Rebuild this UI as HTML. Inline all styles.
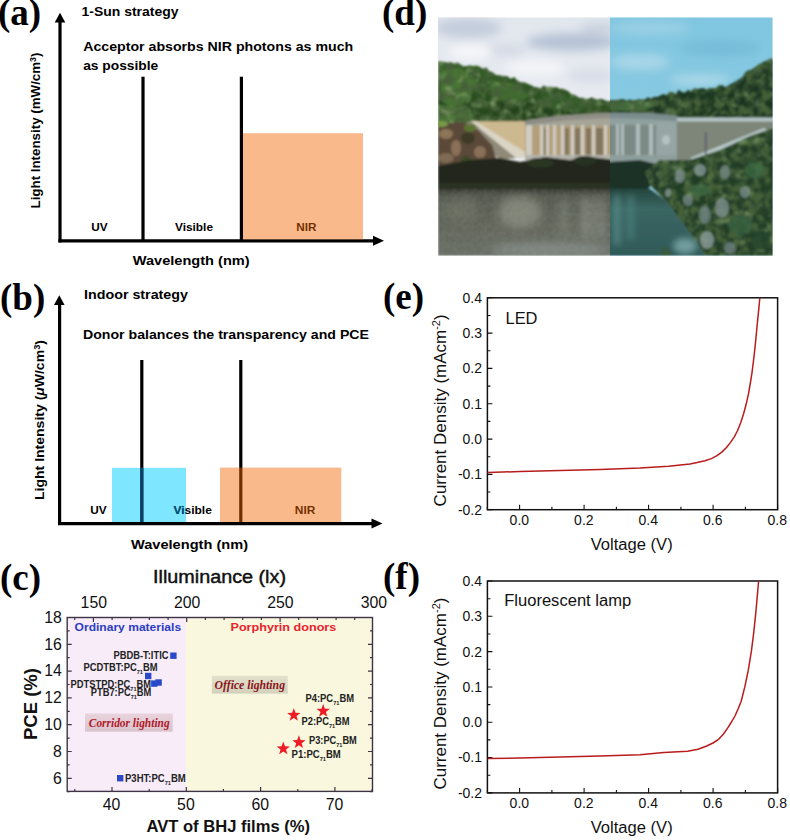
<!DOCTYPE html>
<html><head><meta charset="utf-8"><style>
html,body{margin:0;padding:0;background:#fff;width:790px;height:840px;overflow:hidden}
svg{display:block}
text{font-family:"Liberation Sans",sans-serif}
</style></head><body>
<svg width="790" height="840" viewBox="0 0 790 840">
<text x="-2" y="25" font-size="37" font-weight="bold" fill="#000" style='font-family:"Liberation Serif", serif' >(a)</text>
<text x="81.5" y="16.4" font-size="12.8" font-weight="bold" fill="#000" textLength="97" lengthAdjust="spacingAndGlyphs" >1-Sun strategy</text>
<text x="83.2" y="50.8" font-size="12.8" font-weight="bold" fill="#000" textLength="270" lengthAdjust="spacingAndGlyphs" >Acceptor absorbs NIR photons as much</text>
<text x="83.2" y="69.6" font-size="12.8" font-weight="bold" fill="#000" textLength="75" lengthAdjust="spacingAndGlyphs" >as possible</text>
<g stroke="#000" stroke-width="3.2" fill="none">
<line x1="60" y1="21" x2="60" y2="242.4"/>
<line x1="58.4" y1="240.8" x2="374" y2="240.8"/>
<line x1="143" y1="76.7" x2="143" y2="240"/>
<line x1="241.4" y1="76.7" x2="241.4" y2="240"/>
</g>
<polygon points="60,12.7 54.7,22.5 65.3,22.5" fill="#000"/>
<polygon points="384,240.8 373,235.8 373,245.8" fill="#000"/>
<text x="91.2" y="231.1" font-size="11.8" font-weight="bold" fill="#000" textLength="16.4" lengthAdjust="spacingAndGlyphs" >UV</text>
<text x="175" y="231.1" font-size="11.8" font-weight="bold" fill="#000" textLength="38" lengthAdjust="spacingAndGlyphs" >Visible</text>
<text x="296.3" y="231.1" font-size="11.8" font-weight="bold" fill="#000" textLength="20.2" lengthAdjust="spacingAndGlyphs" >NIR</text>
<rect x="243" y="133.2" width="120" height="106.2" fill="rgb(242,102,2)" fill-opacity="0.46"/>
<text x="132.7" y="265.3" font-size="12.8" font-weight="bold" fill="#000" textLength="117" lengthAdjust="spacingAndGlyphs" >Wavelength (nm)</text>
<text transform="translate(40,208.5) rotate(-90)" font-size="12.8" font-weight="bold" textLength="156" lengthAdjust="spacingAndGlyphs">Light Intensity (mW/cm<tspan font-size="8.5" dy="-4.5">3</tspan><tspan dy="4.5">)</tspan></text>
<text x="0" y="309.6" font-size="37" font-weight="bold" fill="#000" style='font-family:"Liberation Serif", serif' >(b)</text>
<text x="84" y="299.4" font-size="12.8" font-weight="bold" fill="#000" textLength="104" lengthAdjust="spacingAndGlyphs" >Indoor strategy</text>
<text x="83" y="339.2" font-size="12.8" font-weight="bold" fill="#000" textLength="286" lengthAdjust="spacingAndGlyphs" >Donor balances the transparency and PCE</text>
<g stroke="#000" stroke-width="3.2" fill="none">
<line x1="59.6" y1="304" x2="59.6" y2="525"/>
<line x1="58" y1="523.6" x2="372" y2="523.6"/>
<line x1="141.8" y1="360" x2="141.8" y2="523"/>
<line x1="240.8" y1="360" x2="240.8" y2="523"/>
</g>
<polygon points="59.3,295.2 54,305 64.6,305" fill="#000"/>
<polygon points="382.5,523.6 371.5,518.6 371.5,528.6" fill="#000"/>
<text x="90.2" y="514.4" font-size="11.8" font-weight="bold" fill="#000" textLength="16.4" lengthAdjust="spacingAndGlyphs" >UV</text>
<text x="173.4" y="514.4" font-size="11.8" font-weight="bold" fill="#000" textLength="38.5" lengthAdjust="spacingAndGlyphs" >Visible</text>
<text x="294.8" y="514.4" font-size="11.8" font-weight="bold" fill="#000" textLength="20.5" lengthAdjust="spacingAndGlyphs" >NIR</text>
<rect x="112" y="467.8" width="74" height="54.2" fill="rgb(0,205,255)" fill-opacity="0.5"/>
<clipPath id="blueclip"><rect x="112" y="467.8" width="74" height="54.2"/></clipPath>
<g clip-path="url(#blueclip)"><line x1="141.8" y1="460" x2="141.8" y2="522" stroke="#0c3f62" stroke-width="3.2"/><text x="173.4" y="514.4" font-size="11.8" font-weight="bold" fill="#0c4a72" textLength="38.5" lengthAdjust="spacingAndGlyphs">Visible</text></g>
<rect x="220" y="467.6" width="121.3" height="54.4" fill="rgb(242,102,2)" fill-opacity="0.46"/>
<text x="131" y="549.3" font-size="12.8" font-weight="bold" fill="#000" textLength="117" lengthAdjust="spacingAndGlyphs" >Wavelength (nm)</text>
<text transform="translate(44,500) rotate(-90)" font-size="12.8" font-weight="bold" textLength="160" lengthAdjust="spacingAndGlyphs">Light Intensity (<tspan font-style="italic">μ</tspan>W/cm<tspan font-size="8.5" dy="-4.5">3</tspan><tspan dy="4.5">)</tspan></text>
<text x="0" y="590" font-size="37" font-weight="bold" fill="#000" style='font-family:"Liberation Serif", serif' >(c)</text>
<rect x="67.2" y="617.5" width="118.8" height="173.89999999999998" fill="#f8ecf8"/>
<rect x="186" y="617.5" width="186.5" height="173.89999999999998" fill="#f9f7de"/>
<path d="M67.2 791.7h2.5M372.5 791.7h-2.5M67.2 778.3h4.5M372.5 778.3h-4.5M67.2 764.9h2.5M372.5 764.9h-2.5M67.2 751.5h4.5M372.5 751.5h-4.5M67.2 738.1h2.5M372.5 738.1h-2.5M67.2 724.7h4.5M372.5 724.7h-4.5M67.2 711.3h2.5M372.5 711.3h-2.5M67.2 697.9h4.5M372.5 697.9h-4.5M67.2 684.5h2.5M372.5 684.5h-2.5M67.2 671.1h4.5M372.5 671.1h-4.5M67.2 657.7h2.5M372.5 657.7h-2.5M67.2 644.3h4.5M372.5 644.3h-4.5M67.2 630.9h2.5M372.5 630.9h-2.5M67.2 617.5h4.5M372.5 617.5h-4.5M74.8 791.4v-2.5M112.0 791.4v-4.5M149.2 791.4v-2.5M186.3 791.4v-4.5M223.4 791.4v-2.5M260.6 791.4v-4.5M297.8 791.4v-2.5M334.9 791.4v-4.5M372.1 791.4v-2.5M74.7 617.5v2.5M93.4 617.5v4.5M112.1 617.5v2.5M130.7 617.5v2.5M149.4 617.5v2.5M168.1 617.5v2.5M186.7 617.5v4.5M205.4 617.5v2.5M224.1 617.5v2.5M242.7 617.5v2.5M261.4 617.5v2.5M280.1 617.5v4.5M298.7 617.5v2.5M317.4 617.5v2.5M336.1 617.5v2.5M354.7 617.5v2.5" stroke="#3d3545" stroke-width="1.2" fill="none"/>
<rect x="67.2" y="617.5" width="305.3" height="173.89999999999998" fill="none" stroke="#3d3545" stroke-width="1.4"/>
<text x="61.8" y="783.5999999999999" font-size="15.8" font-weight="normal" fill="#111" text-anchor="end" >6</text>
<text x="61.8" y="756.8" font-size="15.8" font-weight="normal" fill="#111" text-anchor="end" >8</text>
<text x="61.8" y="730.0" font-size="15.8" font-weight="normal" fill="#111" text-anchor="end" >10</text>
<text x="61.8" y="703.1999999999999" font-size="15.8" font-weight="normal" fill="#111" text-anchor="end" >12</text>
<text x="61.8" y="676.4" font-size="15.8" font-weight="normal" fill="#111" text-anchor="end" >14</text>
<text x="61.8" y="649.5999999999999" font-size="15.8" font-weight="normal" fill="#111" text-anchor="end" >16</text>
<text x="61.8" y="622.8" font-size="15.8" font-weight="normal" fill="#111" text-anchor="end" >18</text>
<text x="111.6" y="810" font-size="15.8" font-weight="normal" fill="#111" text-anchor="middle" >40</text>
<text x="185.9" y="810" font-size="15.8" font-weight="normal" fill="#111" text-anchor="middle" >50</text>
<text x="260.20000000000005" y="810" font-size="15.8" font-weight="normal" fill="#111" text-anchor="middle" >60</text>
<text x="334.5" y="810" font-size="15.8" font-weight="normal" fill="#111" text-anchor="middle" >70</text>
<text x="93.80000000000001" y="607.7" font-size="15.8" font-weight="normal" fill="#111" text-anchor="middle" >150</text>
<text x="187.13500000000002" y="607.7" font-size="15.8" font-weight="normal" fill="#111" text-anchor="middle" >200</text>
<text x="280.47" y="607.7" font-size="15.8" font-weight="normal" fill="#111" text-anchor="middle" >250</text>
<text x="373.80499999999995" y="607.7" font-size="15.8" font-weight="normal" fill="#111" text-anchor="middle" >300</text>
<text x="146.5" y="831.9" font-size="16.8" font-weight="bold" fill="#111" textLength="163.5" lengthAdjust="spacingAndGlyphs" >AVT of BHJ films (%)</text>
<text x="153" y="582.5" font-size="18" font-weight="normal" fill="#111" textLength="133" lengthAdjust="spacingAndGlyphs" stroke="#111" stroke-width="0.45">Illuminance (lx)</text>
<text transform="translate(37,740) rotate(-90)" font-size="17.5" font-weight="bold" fill="#111" textLength="72" lengthAdjust="spacingAndGlyphs">PCE (%)</text>
<text x="74.6" y="631" font-size="11.2" font-weight="bold" fill="#2b3cc4" textLength="106.5" lengthAdjust="spacingAndGlyphs" >Ordinary materials</text>
<text x="230.5" y="631.4" font-size="11.2" font-weight="bold" fill="#e8232e" textLength="105.8" lengthAdjust="spacingAndGlyphs" >Porphyrin donors</text>
<text x="113.5" y="659" font-size="10.2" font-weight="bold" fill="#222" textLength="55" lengthAdjust="spacingAndGlyphs" >PBDB-T:ITIC</text>
<text x="83.5" y="670.7" font-size="10.2" font-weight="bold" fill="#222" textLength="74" lengthAdjust="spacingAndGlyphs">PCDTBT:PC<tspan font-size="6.1" dy="2.8">71</tspan><tspan dy="-2.8">BM</tspan></text>
<text x="70.6" y="687.8" font-size="10.2" font-weight="bold" fill="#222" textLength="80.5" lengthAdjust="spacingAndGlyphs">PDTSTPD:PC<tspan font-size="6.1" dy="2.8">71</tspan><tspan dy="-2.8">BM</tspan></text>
<text x="90.8" y="696" font-size="10.2" font-weight="bold" fill="#222" textLength="60.5" lengthAdjust="spacingAndGlyphs">PTB7:PC<tspan font-size="6.1" dy="2.8">71</tspan><tspan dy="-2.8">BM</tspan></text>
<text x="125" y="781.9" font-size="10.2" font-weight="bold" fill="#222" textLength="60.8" lengthAdjust="spacingAndGlyphs">P3HT:PC<tspan font-size="6.1" dy="2.8">71</tspan><tspan dy="-2.8">BM</tspan></text>
<text x="305.5" y="702.3" font-size="10.2" font-weight="bold" fill="#222" textLength="48.5" lengthAdjust="spacingAndGlyphs">P4:PC<tspan font-size="6.1" dy="2.8">71</tspan><tspan dy="-2.8">BM</tspan></text>
<text x="301.5" y="725" font-size="10.2" font-weight="bold" fill="#222" textLength="48.1" lengthAdjust="spacingAndGlyphs">P2:PC<tspan font-size="6.1" dy="2.8">71</tspan><tspan dy="-2.8">BM</tspan></text>
<text x="309" y="744.3" font-size="10.2" font-weight="bold" fill="#222" textLength="47.8" lengthAdjust="spacingAndGlyphs">P3:PC<tspan font-size="6.1" dy="2.8">71</tspan><tspan dy="-2.8">BM</tspan></text>
<text x="291.6" y="758.2" font-size="10.2" font-weight="bold" fill="#222" textLength="49.2" lengthAdjust="spacingAndGlyphs">P1:PC<tspan font-size="6.1" dy="2.8">71</tspan><tspan dy="-2.8">BM</tspan></text>
<rect x="170.2" y="652.5" width="6.4" height="6.4" fill="#2a48c8"/>
<rect x="145.0" y="672.8" width="6.4" height="6.4" fill="#2a48c8"/>
<rect x="151.1" y="680.4" width="6.4" height="6.4" fill="#2a48c8"/>
<rect x="155.4" y="679.3" width="6.4" height="6.4" fill="#2a48c8"/>
<rect x="117.0" y="775.0" width="6.4" height="6.4" fill="#2a48c8"/>
<polygon points="323.20,704.00 324.90,708.65 329.86,708.84 325.96,711.90 327.31,716.66 323.20,713.90 319.09,716.66 320.44,711.90 316.54,708.84 321.50,708.65" fill="#ee1c25"/>
<polygon points="293.80,708.20 295.50,712.85 300.46,713.04 296.56,716.10 297.91,720.86 293.80,718.10 289.69,720.86 291.04,716.10 287.14,713.04 292.10,712.85" fill="#ee1c25"/>
<polygon points="298.90,735.30 300.60,739.95 305.56,740.14 301.66,743.20 303.01,747.96 298.90,745.20 294.79,747.96 296.14,743.20 292.24,740.14 297.20,739.95" fill="#ee1c25"/>
<polygon points="283.30,741.60 285.00,746.25 289.96,746.44 286.06,749.50 287.41,754.26 283.30,751.50 279.19,754.26 280.54,749.50 276.64,746.44 281.60,746.25" fill="#ee1c25"/>
<defs><linearGradient id="gc" x1="0" y1="0" x2="0" y2="1"><stop offset="0" stop-color="#e9d3dc"/><stop offset="1" stop-color="#d9c3cc"/></linearGradient><linearGradient id="go" x1="0" y1="0" x2="0" y2="1"><stop offset="0" stop-color="#e3e1cb"/><stop offset="1" stop-color="#d3d1bb"/></linearGradient></defs>
<rect x="85" y="713.5" width="87.8" height="18.2" fill="url(#gc)"/>
<rect x="211.9" y="675.8" width="75.8" height="17.8" fill="url(#go)"/>
<text x="88.8" y="726.8" font-size="11.5" font-weight="bold" fill="#b01828" style='font-family:"Liberation Serif", serif' textLength="80.8" lengthAdjust="spacingAndGlyphs" font-style="italic" >Corridor lighting</text>
<text x="214.6" y="688.5" font-size="11.5" font-weight="bold" fill="#8a1420" style='font-family:"Liberation Serif", serif' textLength="70.4" lengthAdjust="spacingAndGlyphs" font-style="italic" >Office lighting</text>
<text x="382" y="25" font-size="37" font-weight="bold" fill="#000" style='font-family:"Liberation Serif", serif' >(d)</text>
<defs>
<clipPath id="pclipL"><rect x="438" y="17.3" width="172" height="238.4"/></clipPath>
<clipPath id="pclipR"><rect x="610" y="17.3" width="162.6" height="238.4"/></clipPath>
<linearGradient id="skyL" x1="0" y1="0" x2="0" y2="1">
<stop offset="0" stop-color="#e2e7ee"/><stop offset="0.5" stop-color="#e9ecf1"/><stop offset="1" stop-color="#f1f3f6"/></linearGradient>
<linearGradient id="skyR" x1="0" y1="0" x2="0" y2="1">
<stop offset="0" stop-color="#80c6e0"/><stop offset="0.6" stop-color="#8ccbe2"/><stop offset="1" stop-color="#a6d4e6"/></linearGradient>
<linearGradient id="waterL" x1="0" y1="0" x2="0" y2="1">
<stop offset="0" stop-color="#33372e"/><stop offset="0.12" stop-color="#50544a"/><stop offset="0.6" stop-color="#5e6256"/><stop offset="1" stop-color="#646a62"/></linearGradient>
<linearGradient id="waterR" x1="0" y1="0" x2="0" y2="1">
<stop offset="0" stop-color="#24463f"/><stop offset="0.3" stop-color="#3a6662"/><stop offset="1" stop-color="#2f5a58"/></linearGradient>
<linearGradient id="hillL" x1="0" y1="0" x2="0" y2="1">
<stop offset="0" stop-color="#37602a"/><stop offset="1" stop-color="#22401a"/></linearGradient>
<linearGradient id="hillR" x1="0" y1="0" x2="0" y2="1">
<stop offset="0" stop-color="#24432a"/><stop offset="1" stop-color="#162c1c"/></linearGradient>
<filter id="pblur" x="-5%" y="-5%" width="110%" height="110%"><feGaussianBlur stdDeviation="0.9"/></filter>
<filter id="pblur2" x="-30%" y="-30%" width="160%" height="160%"><feGaussianBlur stdDeviation="3"/></filter>
<filter id="pblur3" x="-30%" y="-30%" width="160%" height="160%"><feGaussianBlur stdDeviation="5"/></filter>
<filter id="texD" x="0" y="0" width="100%" height="100%"><feTurbulence type="fractalNoise" baseFrequency="0.13" numOctaves="3" seed="7"/><feColorMatrix values="0 0 0 0 0.06  0 0 0 0 0.12  0 0 0 0 0.04  0 0 0 3.4 -1.3"/></filter>
<filter id="texL" x="0" y="0" width="100%" height="100%"><feTurbulence type="fractalNoise" baseFrequency="0.11" numOctaves="3" seed="11"/><feColorMatrix values="0 0 0 0 0.38  0 0 0 0 0.55  0 0 0 0 0.25  0 0 0 2.6 -1.45"/></filter>
<clipPath id="hillLc"><path d="M438.0 61.5 L441.2 61.4 L444.5 62.0 L447.8 62.7 L451.0 62.3 L454.1 63.8 L457.1 62.6 L460.2 64.3 L463.2 66.3 L466.3 65.9 L469.9 65.4 L473.4 66.0 L477.0 65.6 L480.1 67.1 L483.2 68.7 L486.2 67.6 L489.3 71.6 L492.4 72.1 L496.0 75.1 L499.7 75.2 L503.3 76.2 L506.9 75.9 L510.6 78.7 L514.2 77.0 L517.8 81.1 L521.4 82.6 L525.0 82.6 L528.1 83.9 L531.1 85.2 L534.2 87.0 L537.2 87.3 L540.3 88.7 L543.6 85.6 L546.8 87.0 L550.1 86.8 L553.4 87.4 L556.4 87.1 L559.5 88.8 L562.5 88.7 L565.6 90.0 L568.6 91.5 L571.3 94.5 L574.0 94.5 L576.8 96.3 L579.5 97.9 L582.6 97.7 L585.6 98.9 L588.7 98.8 L591.7 97.3 L594.8 99.1 L597.8 99.8 L600.9 98.7 L603.9 99.7 L606.9 101.3 L609.9 101.0 L613.0 102.5 L616.0 103.0 L616 128 L438 128 Z"/></clipPath>
<clipPath id="hillRc"><path d="M608.0 99.7 L611.1 100.2 L614.2 100.1 L617.2 100.1 L620.3 99.6 L623.4 99.3 L626.5 100.7 L629.6 99.5 L632.6 100.4 L635.7 100.3 L638.8 99.3 L641.9 99.7 L644.9 99.6 L648.0 97.3 L651.1 98.8 L654.2 96.8 L657.3 96.9 L660.3 95.4 L663.4 94.0 L666.5 95.2 L669.6 92.0 L672.7 92.3 L675.7 93.9 L678.8 89.8 L681.8 92.1 L684.9 92.8 L687.9 89.8 L691.0 91.4 L694.1 88.3 L697.2 89.0 L700.3 88.4 L703.3 88.1 L706.4 89.4 L709.5 88.2 L712.6 87.9 L715.8 88.2 L719.0 85.2 L722.3 85.2 L725.5 87.6 L728.7 86.2 L732.0 84.1 L735.2 83.4 L738.4 82.0 L740.6 77.9 L742.7 76.4 L744.9 73.0 L747.6 70.4 L750.2 70.3 L752.9 68.7 L755.6 66.7 L758.5 64.5 L761.3 63.3 L764.2 61.4 L767.5 60.3 L770.7 58.6 L774.0 59.7 L774 135 L608 125 Z"/></clipPath>
<clipPath id="vegRc"><path d="M645 172 L660 160 L690 160 L720 150 L750 136 L774 128 L774 256 L705 256 L695 240 L680 220 L665 200 L650 185 Z"/></clipPath>
<filter id="grain" x="0" y="0" width="100%" height="100%"><feTurbulence type="fractalNoise" baseFrequency="0.9" numOctaves="1" seed="2"/><feColorMatrix values="0 0 0 0 0.6  0 0 0 0 0.62  0 0 0 0 0.58  0 0 0 2.2 -1.0"/></filter>
</defs>
<g clip-path="url(#pclipL)">
<rect x="438" y="17.3" width="172.3" height="238.4" fill="url(#skyL)"/>
<g filter="url(#pblur3)">
<ellipse cx="468" cy="28" rx="34" ry="10" fill="#c4cddc"/>
<ellipse cx="572" cy="42" rx="46" ry="9" fill="#b6c2d5"/>
<ellipse cx="600" cy="28" rx="20" ry="6" fill="#cbd3df"/>
<ellipse cx="505" cy="50" rx="22" ry="5" fill="#d2d8e3"/>
<ellipse cx="592" cy="76" rx="24" ry="6" fill="#d6dce6"/>
<ellipse cx="470" cy="52" rx="22" ry="7" fill="#f6f7f9"/>
<ellipse cx="535" cy="68" rx="30" ry="8" fill="#f3f4f7"/>
</g>
<g filter="url(#pblur)">
<path d="M438.0 61.5 L441.2 61.4 L444.5 62.0 L447.8 62.7 L451.0 62.3 L454.1 63.8 L457.1 62.6 L460.2 64.3 L463.2 66.3 L466.3 65.9 L469.9 65.4 L473.4 66.0 L477.0 65.6 L480.1 67.1 L483.2 68.7 L486.2 67.6 L489.3 71.6 L492.4 72.1 L496.0 75.1 L499.7 75.2 L503.3 76.2 L506.9 75.9 L510.6 78.7 L514.2 77.0 L517.8 81.1 L521.4 82.6 L525.0 82.6 L528.1 83.9 L531.1 85.2 L534.2 87.0 L537.2 87.3 L540.3 88.7 L543.6 85.6 L546.8 87.0 L550.1 86.8 L553.4 87.4 L556.4 87.1 L559.5 88.8 L562.5 88.7 L565.6 90.0 L568.6 91.5 L571.3 94.5 L574.0 94.5 L576.8 96.3 L579.5 97.9 L582.6 97.7 L585.6 98.9 L588.7 98.8 L591.7 97.3 L594.8 99.1 L597.8 99.8 L600.9 98.7 L603.9 99.7 L606.9 101.3 L609.9 101.0 L613.0 102.5 L616.0 103.0 L616 128 L438 128 Z" fill="url(#hillL)"/>
<path d="M442 70 L460 68 L475 80 L470 100 L452 108 L440 100Z" fill="#4f7c38" opacity="0.8"/>
<path d="M490 80 L515 84 L530 96 L512 106 L492 98Z" fill="#4a7834" opacity="0.7"/>
<path d="M540 92 L570 95 L600 104 L580 112 L545 108Z" fill="#355c2a" opacity="0.8"/>
<path d="M438 105 L470 108 L475 122 L438 125Z" fill="#5f8a44" opacity="0.7"/>
<path d="M500 100 L540 104 L560 114 L500 116Z" fill="#22401c" opacity="0.7"/>
<g clip-path="url(#hillLc)"><rect x="438" y="55" width="178" height="75" filter="url(#texD)"/><rect x="438" y="55" width="178" height="75" filter="url(#texL)" opacity="0.8"/></g>
<!-- left dam wall -->
<path d="M470.7 121.3 L525 121.3 L525 155 L520 155 Z" fill="#cdb98f"/>
<path d="M470.7 121.3 L476 121.3 L525 152 L525 158 L516 158 Z" fill="#d9d4c4"/>
<path d="M462 125 L470.7 121.3 L516 158 L500 160 Z" fill="#8f8a78"/>
<!-- left rocks -->
<path d="M438 124 L462 122 L478 130 L492 145 L498 165 L438 168Z" fill="#5a4a38"/>
<ellipse cx="446" cy="134" rx="7" ry="5" fill="#8d7558"/>
<ellipse cx="456" cy="148" rx="5" ry="8" fill="#8a7058"/>
<ellipse cx="446" cy="158" rx="8" ry="5" fill="#7e6a54"/>
<ellipse cx="480" cy="152" rx="6" ry="6" fill="#8a7058"/>
<ellipse cx="468" cy="138" rx="7" ry="6" fill="#3e3a26"/>
<ellipse cx="470" cy="128" rx="6" ry="4" fill="#5a7432"/>
<ellipse cx="442" cy="124" rx="6" ry="3" fill="#7a9a4a"/>
<ellipse cx="482" cy="163" rx="6" ry="4" fill="#4a6a30"/>
<ellipse cx="466" cy="160" rx="5" ry="4" fill="#3a4a26"/>
<!-- building -->
<path d="M525 121 Q560 114 616 113 L616 168 L525 168 Z" fill="#a6a496"/>
<path d="M525 121 Q560 114 616 113 L616 118 Q560 119 525 126 Z" fill="#8e8e86"/>
<rect x="525" y="126" width="87" height="30" fill="#b39e78"/>
<g fill="#cfcdc3">
<rect x="526" y="125" width="6" height="31"/><rect x="540" y="125" width="3" height="31"/><rect x="546" y="125" width="3" height="31"/>
<rect x="553" y="125" width="3" height="31"/><rect x="561" y="125" width="3" height="31"/><rect x="571" y="125" width="3" height="31"/>
<rect x="581" y="125" width="3" height="31"/><rect x="592" y="125" width="3" height="31"/><rect x="604" y="125" width="3" height="31"/>
</g>
<g fill="#6e6654" opacity="0.7">
<rect x="544" y="128" width="2" height="28"/><rect x="565" y="128" width="4" height="28"/><rect x="575" y="128" width="5" height="28"/><rect x="586" y="128" width="5" height="28"/><rect x="596" y="128" width="7" height="28"/>
</g>
<rect x="525" y="155" width="87" height="13" fill="#b4b4ac"/>
<!-- dark vegetation band -->
<path d="M438 166 L470 160 L500 158 L520 162 L545 157 L570 160 L590 157 L616 160 L616 192 L438 192 Z" fill="#22281c"/>
<ellipse cx="540" cy="163" rx="14" ry="5" fill="#2b3424"/>
<ellipse cx="585" cy="161" rx="12" ry="5" fill="#283022"/>
<rect x="438" y="183" width="174" height="8" fill="#2a3024"/>
<!-- water -->
<rect x="438" y="189" width="178" height="67" fill="url(#waterL)"/>
<g filter="url(#pblur3)" opacity="0.7">
<ellipse cx="520" cy="212" rx="22" ry="16" fill="#8e9284"/>
<rect x="582" y="198" width="8" height="40" fill="#949a90"/>
<rect x="596" y="198" width="8" height="40" fill="#8c928a"/>
<rect x="560" y="200" width="8" height="35" fill="#7e8478"/>
<ellipse cx="550" cy="250" rx="60" ry="7" fill="#8a9490"/>
<ellipse cx="460" cy="210" rx="18" ry="12" fill="#6a6e60"/>
</g>
<rect x="438" y="189" width="178" height="67" filter="url(#grain)" opacity="0.5"/>
</g>
</g>
<g clip-path="url(#pclipR)">
<rect x="610" y="17.3" width="163" height="238.4" fill="url(#skyR)"/>
<g filter="url(#pblur3)">
<ellipse cx="650" cy="28" rx="40" ry="7" fill="#9ad0e6"/>
<ellipse cx="720" cy="48" rx="40" ry="7" fill="#74bcd8"/>
<ellipse cx="640" cy="62" rx="30" ry="8" fill="#a9d6e8"/>
<ellipse cx="700" cy="80" rx="30" ry="5" fill="#b0dae9"/>
</g>
<g filter="url(#pblur)">
<path d="M608.0 99.7 L611.1 100.2 L614.2 100.1 L617.2 100.1 L620.3 99.6 L623.4 99.3 L626.5 100.7 L629.6 99.5 L632.6 100.4 L635.7 100.3 L638.8 99.3 L641.9 99.7 L644.9 99.6 L648.0 97.3 L651.1 98.8 L654.2 96.8 L657.3 96.9 L660.3 95.4 L663.4 94.0 L666.5 95.2 L669.6 92.0 L672.7 92.3 L675.7 93.9 L678.8 89.8 L681.8 92.1 L684.9 92.8 L687.9 89.8 L691.0 91.4 L694.1 88.3 L697.2 89.0 L700.3 88.4 L703.3 88.1 L706.4 89.4 L709.5 88.2 L712.6 87.9 L715.8 88.2 L719.0 85.2 L722.3 85.2 L725.5 87.6 L728.7 86.2 L732.0 84.1 L735.2 83.4 L738.4 82.0 L740.6 77.9 L742.7 76.4 L744.9 73.0 L747.6 70.4 L750.2 70.3 L752.9 68.7 L755.6 66.7 L758.5 64.5 L761.3 63.3 L764.2 61.4 L767.5 60.3 L770.7 58.6 L774.0 59.7 L774 135 L608 125 Z" fill="url(#hillR)"/>
<path d="M610 102 L640 101 L660 104 L640 112 L610 110Z" fill="#4c7a44" opacity="0.8"/>
<path d="M720 90 L745 76 L770 64 L774 100 L740 110Z" fill="#1a3322" opacity="0.8"/>
<g clip-path="url(#hillRc)"><rect x="608" y="55" width="166" height="80" filter="url(#texD)"/><rect x="608" y="55" width="166" height="80" filter="url(#texL)" opacity="0.5"/></g>
<!-- building right part -->
<path d="M608 113 Q645 112 677 116 L677 168 L608 168 Z" fill="#8fa09e"/>
<path d="M608 113 Q645 112 677 116 L677 121 Q645 118 608 118 Z" fill="#7a8c8c"/>
<rect x="608" y="125" width="48" height="30" fill="#7c8a86"/>
<g fill="#aebcba">
<rect x="616" y="124" width="3" height="31"/><rect x="621" y="124" width="3" height="31"/><rect x="636" y="124" width="4" height="31"/>
<rect x="649" y="124" width="4" height="31"/>
</g>
<rect x="656" y="122" width="20" height="34" fill="#96a6a4"/>
<ellipse cx="666" cy="140" rx="4" ry="5" fill="#b4c2c0"/>
<rect x="608" y="155" width="69" height="13" fill="#8e9e9c"/>
<!-- right dam wall -->
<path d="M677 119 L767 119 L774 120 L774 133 L700 160 L677 160Z" fill="#7d8678"/>
<rect x="677" y="117.5" width="97" height="4" fill="#b4c4c6"/>
<path d="M690 158 L764 128 L768 131 L696 162Z" fill="#b8c8ca"/>
<rect x="705" y="132" width="1.5" height="28" fill="#556"/>
<!-- right vegetation and rocks -->
<path d="M645 172 L660 160 L690 160 L720 150 L750 136 L774 128 L774 256 L705 256 L695 240 L680 220 L665 200 L650 185 Z" fill="#223e28"/>
<path d="M608 162 L640 160 L660 165 L648 190 L608 192Z" fill="#1c3228"/>
<g clip-path="url(#vegRc)"><rect x="640" y="125" width="134" height="131" filter="url(#texD)"/><rect x="640" y="125" width="134" height="131" filter="url(#texL)" opacity="0.6"/></g>
<g opacity="0.75">
<ellipse cx="680" cy="176" rx="5" ry="7" fill="#7e9090"/>
<ellipse cx="700" cy="170" rx="6" ry="6" fill="#8c9c9c"/>
<ellipse cx="725" cy="172" rx="5" ry="7" fill="#7a8a8a"/>
<ellipse cx="688" cy="200" rx="5" ry="6" fill="#748686"/>
<ellipse cx="705" cy="215" rx="6" ry="9" fill="#6e8282"/>
<ellipse cx="722" cy="208" rx="7" ry="10" fill="#849494"/>
<ellipse cx="745" cy="192" rx="5" ry="6" fill="#7e9090"/>
<ellipse cx="707" cy="240" rx="7" ry="9" fill="#92a2a2"/>
<ellipse cx="730" cy="248" rx="6" ry="6" fill="#728484"/>
<ellipse cx="668" cy="193" rx="3" ry="4" fill="#8a9a9a"/>
</g>
<ellipse cx="755" cy="170" rx="10" ry="8" fill="#3a6640" opacity="0.8"/>
<ellipse cx="740" cy="225" rx="12" ry="10" fill="#386240" opacity="0.8"/>
<ellipse cx="700" cy="190" rx="10" ry="6" fill="#3e6a44" opacity="0.8"/>
<ellipse cx="760" cy="240" rx="10" ry="10" fill="#24442c" opacity="0.8"/>
<!-- water right -->
<path d="M608 189 L650 189 L665 200 L680 220 L695 240 L705 256 L608 256Z" fill="url(#waterR)"/>
<g filter="url(#pblur2)" opacity="0.6">
<rect x="614" y="195" width="6" height="50" fill="#6aa0a0"/>
<rect x="628" y="195" width="5" height="45" fill="#5c9494"/>
<ellipse cx="685" cy="246" rx="12" ry="8" fill="#9cc8cc"/>
</g>
<path d="M660 256 L665 245 L672 255Z" fill="#3a5a38"/>
</g>
</g>

<text x="383" y="309" font-size="37" font-weight="bold" fill="#000" style='font-family:"Liberation Serif", serif' >(e)</text>
<path d="M487.4 509.7h5M487.4 492.0h3M487.4 474.4h5M487.4 456.7h3M487.4 439.1h5M487.4 421.4h3M487.4 403.8h5M487.4 386.1h3M487.4 368.4h5M487.4 350.8h3M487.4 333.1h5M487.4 315.5h3M487.4 297.8h5M487.4 509.7v-3M519.6 509.7v-5M551.9 509.7v-3M584.1 509.7v-5M616.4 509.7v-3M648.6 509.7v-5M680.9 509.7v-3M713.1 509.7v-5M745.4 509.7v-3M777.6 509.7v-5" stroke="#111" stroke-width="1.1" fill="none"/>
<rect x="487.4" y="297.8" width="290.20000000000005" height="211.89999999999998" fill="none" stroke="#111" stroke-width="1.5"/>
<text x="482.0" y="514.6" font-size="14" font-weight="normal" fill="#111" text-anchor="end" >-0.2</text>
<text x="482.0" y="479.2833333333333" font-size="14" font-weight="normal" fill="#111" text-anchor="end" >-0.1</text>
<text x="482.0" y="443.9666666666667" font-size="14" font-weight="normal" fill="#111" text-anchor="end" >0.0</text>
<text x="482.0" y="408.65" font-size="14" font-weight="normal" fill="#111" text-anchor="end" >0.1</text>
<text x="482.0" y="373.3333333333333" font-size="14" font-weight="normal" fill="#111" text-anchor="end" >0.2</text>
<text x="482.0" y="338.01666666666665" font-size="14" font-weight="normal" fill="#111" text-anchor="end" >0.3</text>
<text x="482.0" y="302.7" font-size="14" font-weight="normal" fill="#111" text-anchor="end" >0.4</text>
<text x="519.3444444444444" y="525.2" font-size="14" font-weight="normal" fill="#111" text-anchor="middle" >0.0</text>
<text x="583.8333333333334" y="525.2" font-size="14" font-weight="normal" fill="#111" text-anchor="middle" >0.2</text>
<text x="648.3222222222223" y="525.2" font-size="14" font-weight="normal" fill="#111" text-anchor="middle" >0.4</text>
<text x="712.8111111111111" y="525.2" font-size="14" font-weight="normal" fill="#111" text-anchor="middle" >0.6</text>
<text x="777.3000000000001" y="525.2" font-size="14" font-weight="normal" fill="#111" text-anchor="middle" >0.8</text>
<text x="590.7" y="550.2" font-size="15.6" font-weight="normal" fill="#111" textLength="82" lengthAdjust="spacingAndGlyphs" >Voltage (V)</text>
<text transform="translate(446,506.4) rotate(-90)" font-size="15.6" fill="#111" textLength="192" lengthAdjust="spacingAndGlyphs">Current Density (mAcm<tspan font-size="10" dy="-6">-2</tspan><tspan dy="6">)</tspan></text>
<text x="505.5" y="323.7" font-size="15.6" font-weight="normal" fill="#111" textLength="32" lengthAdjust="spacingAndGlyphs" >LED</text>
<polyline points="487.6,472.4 520.0,471.6 560.0,470.5 600.0,469.4 640.0,468.1 668.6,466.2 690.0,464.0 697.1,462.6 705.0,460.8 711.4,458.6 717.0,455.6 722.1,451.9 726.5,447.5 730.5,442.4 734.3,436.8 737.6,430.5 740.8,422.5 743.6,413.8 746.0,404.8 748.3,394.8 750.2,384.0 751.9,373.3 753.4,361.5 754.8,349.5 756.0,337.5 757.1,325.7 758.5,311.8 759.8,298.3" fill="none" stroke="#b81c1c" stroke-width="1.5" stroke-linejoin="round"/>
<text x="383" y="589.2" font-size="37" font-weight="bold" fill="#000" style='font-family:"Liberation Serif", serif' >(f)</text>
<path d="M487.4 792.9h5M487.4 775.2h3M487.4 757.6h5M487.4 739.9h3M487.4 722.3h5M487.4 704.6h3M487.4 687.0h5M487.4 669.3h3M487.4 651.6h5M487.4 634.0h3M487.4 616.3h5M487.4 598.7h3M487.4 581.0h5M487.4 792.9v-3M519.6 792.9v-5M551.9 792.9v-3M584.1 792.9v-5M616.4 792.9v-3M648.6 792.9v-5M680.9 792.9v-3M713.1 792.9v-5M745.4 792.9v-3M777.6 792.9v-5" stroke="#111" stroke-width="1.1" fill="none"/>
<rect x="487.4" y="581.0" width="290.20000000000005" height="211.89999999999998" fill="none" stroke="#111" stroke-width="1.5"/>
<text x="482.0" y="797.8000000000001" font-size="14" font-weight="normal" fill="#111" text-anchor="end" >-0.2</text>
<text x="482.0" y="762.4833333333332" font-size="14" font-weight="normal" fill="#111" text-anchor="end" >-0.1</text>
<text x="482.0" y="727.1666666666666" font-size="14" font-weight="normal" fill="#111" text-anchor="end" >0.0</text>
<text x="482.0" y="691.85" font-size="14" font-weight="normal" fill="#111" text-anchor="end" >0.1</text>
<text x="482.0" y="656.5333333333333" font-size="14" font-weight="normal" fill="#111" text-anchor="end" >0.2</text>
<text x="482.0" y="621.2166666666666" font-size="14" font-weight="normal" fill="#111" text-anchor="end" >0.3</text>
<text x="482.0" y="585.9" font-size="14" font-weight="normal" fill="#111" text-anchor="end" >0.4</text>
<text x="519.3444444444444" y="808.4" font-size="14" font-weight="normal" fill="#111" text-anchor="middle" >0.0</text>
<text x="583.8333333333334" y="808.4" font-size="14" font-weight="normal" fill="#111" text-anchor="middle" >0.2</text>
<text x="648.3222222222223" y="808.4" font-size="14" font-weight="normal" fill="#111" text-anchor="middle" >0.4</text>
<text x="712.8111111111111" y="808.4" font-size="14" font-weight="normal" fill="#111" text-anchor="middle" >0.6</text>
<text x="777.3000000000001" y="808.4" font-size="14" font-weight="normal" fill="#111" text-anchor="middle" >0.8</text>
<text x="590.7" y="833.4" font-size="15.6" font-weight="normal" fill="#111" textLength="82" lengthAdjust="spacingAndGlyphs" >Voltage (V)</text>
<text transform="translate(446,789.5999999999999) rotate(-90)" font-size="15.6" fill="#111" textLength="192" lengthAdjust="spacingAndGlyphs">Current Density (mAcm<tspan font-size="10" dy="-6">-2</tspan><tspan dy="6">)</tspan></text>
<text x="504.2" y="605.9" font-size="15.6" font-weight="normal" fill="#111" textLength="127" lengthAdjust="spacingAndGlyphs" >Fluorescent lamp</text>
<polyline points="487.6,758.5 520.0,758.0 560.0,757.0 600.0,756.0 640.0,754.8 663.8,752.4 687.6,751.2 698.0,749.2 706.7,746.0 713.0,743.0 718.6,739.3 723.5,734.0 728.1,727.4 731.8,721.5 735.2,715.5 738.3,708.5 741.2,701.2 744.8,686.9 748.3,670.2 751.4,651.2 753.8,632.1 756.0,610.7 757.3,596.0 758.6,581.0" fill="none" stroke="#b81c1c" stroke-width="1.5" stroke-linejoin="round"/>
</svg>
</body></html>
